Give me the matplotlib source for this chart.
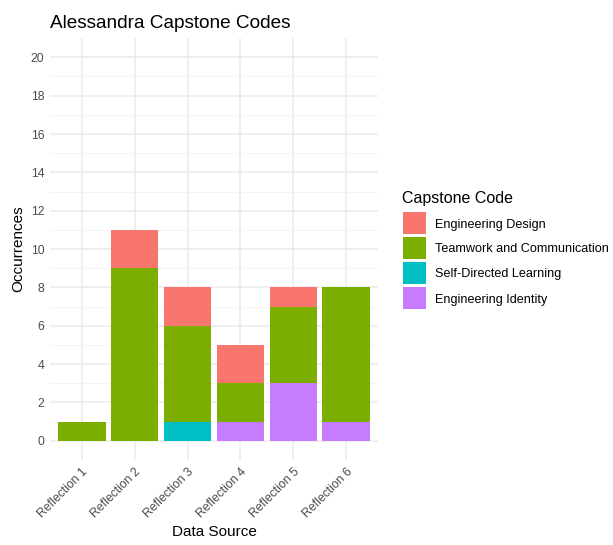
import matplotlib
matplotlib.use("Agg")
import matplotlib.pyplot as plt
from matplotlib.patches import Rectangle
import numpy as np

plt.rcParams['font.family'] = ['Liberation Sans', 'DejaVu Sans']

sources = ["Reflection 1", "Reflection 2", "Reflection 3",
           "Reflection 4", "Reflection 5", "Reflection 6"]
codes = ["Engineering Design", "Teamwork and Communication",
         "Self-Directed Learning", "Engineering Identity"]
engineering_design = [0, 2, 2, 2, 1, 0]
teamwork_communication = [1, 9, 5, 2, 4, 7]
self_directed_learning = [0, 0, 1, 0, 0, 0]
engineering_identity = [0, 0, 0, 1, 3, 1]
colors = ["#F8766D", "#7CAE00", "#00BFC4", "#C77CFF"]

series = [engineering_design, teamwork_communication,
          self_directed_learning, engineering_identity]

W, H = 613, 545
fig = plt.figure(figsize=(W / 100, H / 100), dpi=100)
ax = fig.add_axes([0.0816, 0.156, 0.535, 0.774])

x = np.arange(1, len(sources) + 1)
# stack from the last legend entry at the bottom up to the first on top
bottom = np.zeros(len(sources))
for vals, col in zip(series[::-1], colors[::-1]):
    v = np.array(vals, dtype=float)
    ax.bar(x, v, width=0.9, bottom=bottom, color=col, linewidth=0, zorder=3)
    bottom += v

ax.set_xlim(0.4, 6.6)
ax.set_ylim(-1, 21)
ax.set_yticks(np.arange(0, 21, 2))
ax.set_yticks(np.arange(1, 21, 2), minor=True)
ax.set_xticks(x)
ax.set_xticklabels(sources, rotation=45, ha="right", rotation_mode="anchor")

ax.grid(True, which="major", color="#EBEBEB", linewidth=1.1, zorder=0)
ax.grid(True, which="minor", axis="y", color="#F2F2F2", linewidth=0.6, zorder=0)
for s in ax.spines.values():
    s.set_visible(False)
ax.tick_params(axis="both", which="both", length=0, labelsize=8.8,
               labelcolor="#4D4D4D", pad=4)

ax.set_xlabel("Data Source", fontsize=11, color="black", labelpad=4)
ax.set_ylabel("Occurrences", fontsize=11, color="black", labelpad=4)
fig.text(0.0816, 0.957, "Alessandra Capstone Codes", fontsize=13.7,
         ha="left", va="center")

# legend laid out in pixel units of the figure
key_left, key_w, key_h, key_top, key_step = 403, 23, 22, 212, 25
fig.text(402 / W, 1 - 198 / H, "Capstone Code", fontsize=11.5,
         ha="left", va="center")
for i, (label, col) in enumerate(zip(codes, colors)):
    top = key_top + i * key_step
    fig.add_artist(Rectangle((key_left / W, 1 - (top + key_h) / H),
                             key_w / W, key_h / H, transform=fig.transFigure,
                             facecolor=col, edgecolor="none"))
    fig.text(435 / W, 1 - (top + key_h / 2) / H, label, fontsize=9.1,
             ha="left", va="center_baseline")

fig.savefig("out.png", dpi=100)
